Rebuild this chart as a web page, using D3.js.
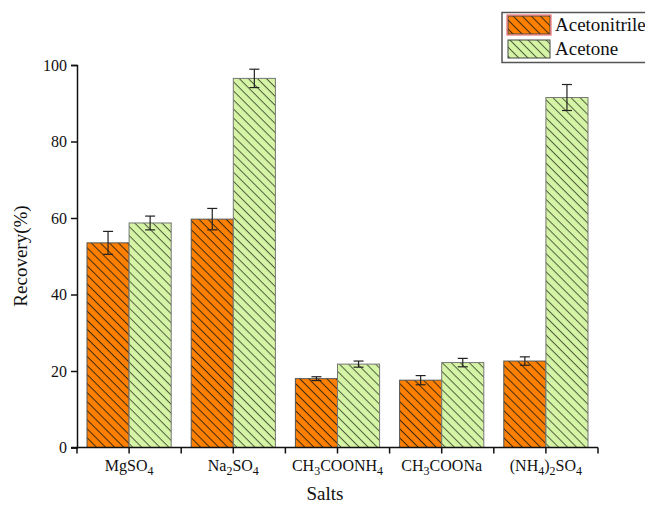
<!DOCTYPE html>
<html>
<head>
<meta charset="utf-8">
<script src="https://cdn.jsdelivr.net/npm/d3@7"></script>
<style>
  body { margin: 0; background: #fff; }
</style>
</head>
<body>
<div id="chart"></div>
<script>
// salts, with subscripts written as _n
var salts = ["MgSO_4", "Na_2SO_4", "CH_3COONH_4", "CH_3COONa", "(NH_4)_2SO_4"];
var seriesNames = ["Acetonitrile", "Acetone"];
var acetonitrile = [53.5, 59.7, 18.0, 17.6, 22.6];
var acetonitrileErr = [3.0, 2.8, 0.5, 1.2, 1.1];
var acetone = [58.7, 96.5, 21.8, 22.2, 91.5];
var acetoneErr = [1.8, 2.4, 0.8, 1.1, 3.4];
var yTicks = [0, 20, 40, 60, 80, 100];

var serif = "'Liberation Serif', 'Times New Roman', serif";
var width = 645, height = 505,
  margin = {top: 65, right: 47, bottom: 58, left: 77},
  w = width - margin.left - margin.right,
  h = height - margin.top - margin.bottom;

var colors = ["#ff8000", "#d5f4a6"];
var hatchColors = ["#3a2a12", "#4f5e3c"];

var svg = d3.select("#chart").append("svg")
  .attr("width", width)
  .attr("height", height)
  .attr("font-family", serif)
  .style("font-family", serif);

// hatch patterns, lines running top-left to bottom-right
var defs = svg.append("defs");
colors.forEach(function(c, i) {
  var p = defs.append("pattern")
    .attr("id", "hatch" + i)
    .attr("patternUnits", "userSpaceOnUse")
    .attr("width", 6.4).attr("height", 6.4)
    .attr("patternTransform", "rotate(45)");
  p.append("rect").attr("width", 6.4).attr("height", 6.4).attr("fill", c);
  p.append("line").attr("x1", 0).attr("y1", 0.5).attr("x2", 6.4).attr("y2", 0.5)
    .attr("stroke", hatchColors[i]).attr("stroke-width", 1);
});

var g = svg.append("g").attr("transform", "translate(" + margin.left + "," + margin.top + ")");

var x = d3.scaleBand().domain(salts).range([0, w]).paddingInner(0).paddingOuter(0);
var x1 = d3.scaleBand().domain(seriesNames).range([10, x.bandwidth() - 10]);
var y = d3.scaleLinear().domain([0, 100]).range([h + 0.5, 0]);

var data = salts.map(function(s, i) {
  return {salt: s, vals: [
    {name: seriesNames[0], v: acetonitrile[i], e: acetonitrileErr[i], k: 0},
    {name: seriesNames[1], v: acetone[i], e: acetoneErr[i], k: 1}
  ]};
});

var groups = g.selectAll(".grp").data(data).enter().append("g")
  .attr("transform", function(d) { return "translate(" + x(d.salt) + ",0)"; });

var bars = groups.selectAll(".b").data(function(d) { return d.vals; }).enter().append("g");

bars.append("rect")
  .attr("x", function(d) { return x1(d.name); })
  .attr("width", x1.bandwidth())
  .attr("y", function(d) { return y(d.v); })
  .attr("height", function(d) { return y(0) - y(d.v); })
  .attr("fill", function(d) { return "url(#hatch" + d.k + ")"; })
  .attr("stroke", function(d) { return d.k ? "#777" : "#555"; })
  .attr("stroke-width", 1);

// error bars
bars.each(function(d) {
  var cx = x1(d.name) + x1.bandwidth() / 2;
  var s = d3.select(this);
  s.append("line").attr("x1", cx).attr("x2", cx)
    .attr("y1", y(d.v + d.e)).attr("y2", y(d.v - d.e));
  s.append("line").attr("x1", cx - 5).attr("x2", cx + 5)
    .attr("y1", y(d.v + d.e)).attr("y2", y(d.v + d.e));
  s.append("line").attr("x1", cx - 5).attr("x2", cx + 5)
    .attr("y1", y(d.v - d.e)).attr("y2", y(d.v - d.e));
  s.selectAll("line").attr("stroke", "#222").attr("stroke-width", 1.2);
});

// y axis
var yAxis = d3.axisLeft(y).tickValues(yTicks).tickSize(6).tickPadding(4);
var gy = g.append("g").call(yAxis).attr("font-family", serif);
gy.select(".domain").attr("stroke", "#111").attr("stroke-width", 1.5);
gy.selectAll(".tick line").attr("stroke", "#111").attr("stroke-width", 1.5);
gy.selectAll(".tick text").style("font-size", "16px").style("font-family", serif).attr("fill", "#111");

// x axis: ticks at category boundaries and centers
var gx = g.append("g").attr("transform", "translate(0," + y(0) + ")");
gx.append("line").attr("x1", -6).attr("x2", w).attr("y1", 0).attr("y2", 0)
  .attr("stroke", "#111").attr("stroke-width", 1.5);
var edges = salts.map(function(s) { return x(s); }).concat([w]);
gx.selectAll(".edge").data(edges).enter().append("line")
  .attr("x1", function(d) { return d; }).attr("x2", function(d) { return d; })
  .attr("y1", 0).attr("y2", 6).attr("stroke", "#111").attr("stroke-width", 1.5);
gx.selectAll(".mid").data(salts).enter().append("line")
  .attr("x1", function(d) { return x(d) + x.bandwidth() / 2; })
  .attr("x2", function(d) { return x(d) + x.bandwidth() / 2; })
  .attr("y1", 0).attr("y2", 6).attr("stroke", "#111").attr("stroke-width", 1.5);

function subText(sel, str, size) {
  var parts = str.split(/(_\d)/);
  parts.forEach(function(p) {
    if (!p) return;
    if (p[0] === "_") {
      sel.append("tspan").attr("baseline-shift", "-30%")
        .style("font-size", Math.round(size * 0.75) + "px").text(p.slice(1));
    } else {
      sel.append("tspan").style("font-size", size + "px").text(p);
    }
  });
}

gx.selectAll(".lbl").data(salts).enter().append("text")
  .attr("x", function(d) { return x(d) + x.bandwidth() / 2; })
  .attr("y", 23)
  .attr("text-anchor", "middle")
  .style("font-family", serif)
  .style("font-size", "16px")
  .attr("fill", "#111")
  .each(function(d) { subText(d3.select(this), d, 16); });

// axis titles
svg.append("text")
  .attr("transform", "translate(27," + (margin.top + h / 2) + ") rotate(-90)")
  .attr("text-anchor", "middle")
  .style("font-family", serif)
  .style("font-size", "19px")
  .attr("fill", "#111")
  .text("Recovery(%)");
svg.append("text")
  .attr("x", 325).attr("y", 500)
  .attr("text-anchor", "middle")
  .style("font-family", serif)
  .style("font-size", "19px")
  .attr("fill", "#111")
  .text("Salts");

// legend
var lg = svg.append("g");
lg.append("rect").attr("x", 502).attr("y", 12.5).attr("width", 160).attr("height", 50)
  .attr("fill", "#fff").attr("stroke", "#555").attr("stroke-width", 1.5);
seriesNames.forEach(function(n, i) {
  var ly = 16 + i * 24;
  lg.append("rect").attr("x", 508).attr("y", ly).attr("width", 42).attr("height", 18)
    .attr("fill", "url(#hatch" + i + ")").attr("stroke", "#444").attr("stroke-width", 1);
  lg.append("text").attr("x", 555).attr("y", ly + 15)
    .style("font-family", serif)
    .style("font-size", "19px").attr("fill", "#111").text(n);
});
lg.append("rect").attr("x", 507).attr("y", 15).attr("width", 44).attr("height", 20)
  .attr("fill", "none").attr("stroke", "#e55").attr("stroke-width", 1);
</script>
</body>
</html>
